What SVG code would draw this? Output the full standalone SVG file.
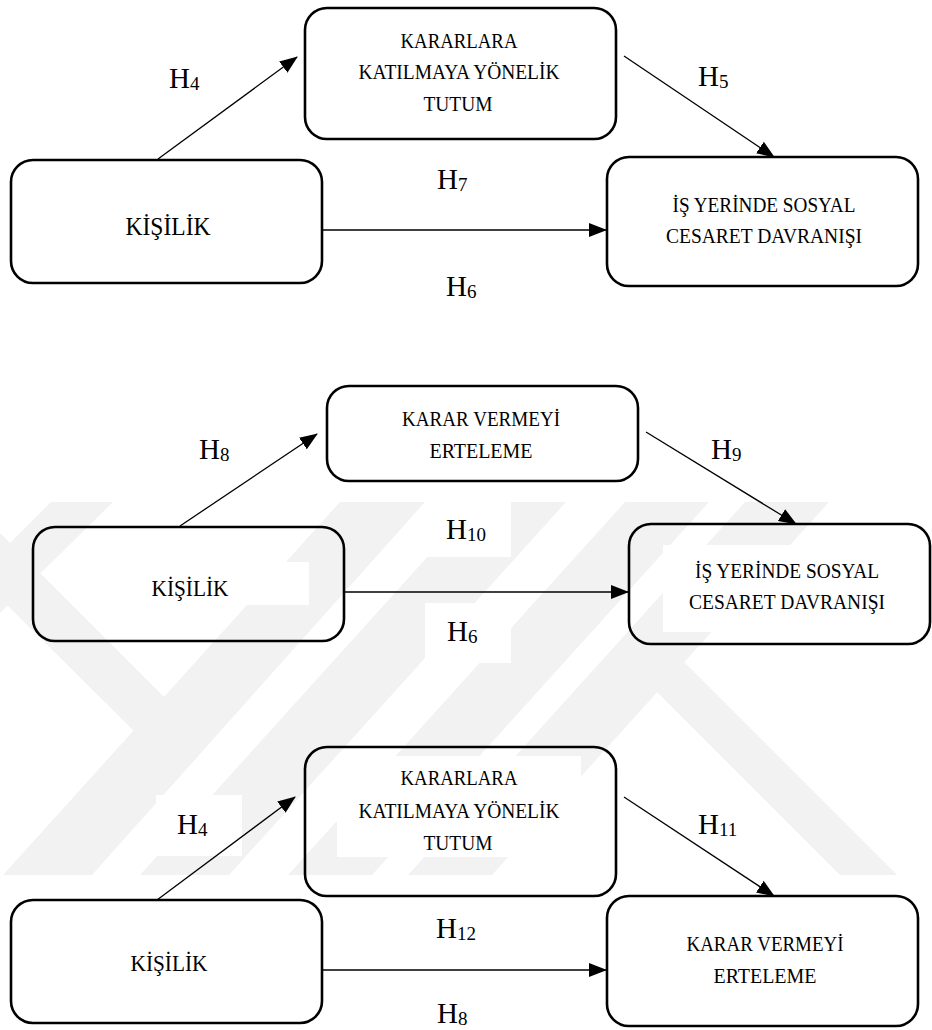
<svg xmlns="http://www.w3.org/2000/svg" width="932" height="1030" viewBox="0 0 932 1030">
<style>
.box{fill:none;stroke:#000;stroke-width:2.6}
.wm{fill:#f2f2f2;stroke:none}
.mask{fill:#fff;stroke:none}
.con{stroke:#000;stroke-width:1.3;fill:none;marker-end:url(#ah)}
.t{font-family:"Liberation Serif","DejaVu Serif",serif;fill:#000;text-anchor:middle}
.bt{font-size:21px}
.kt{font-size:25px}
.h{font-family:"Liberation Serif","DejaVu Serif",serif;fill:#000;font-size:29px}
.s{font-size:19px}
</style>
<defs>
<marker id="ah" markerUnits="userSpaceOnUse" markerWidth="18" markerHeight="14" refX="17" refY="7" orient="auto">
<path d="M0,0 L18,7 L0,14 z" fill="#000"/>
</marker>
</defs>
<rect width="932" height="1030" fill="#fff"/>
<g id="watermark">
<polygon class="wm" points="51,502 113,502 0,613 0,553"/>
<polygon class="wm" points="0,533 168,701 136,733 0,598"/>
<polygon class="wm" points="340,502 425,502 92,875 3,875"/>
<polygon class="wm" points="477,502 566,502 229,875 140,875"/>
<polygon class="wm" points="625,502 709,502 372,875 288,875"/>
<polygon class="wm" points="745,502 829,502 492,875 408,875"/>
<polygon class="wm" points="613,648 684,662 897,875 840,875"/>
<rect class="mask" x="425" y="502" width="86" height="55"/>
<rect class="mask" x="425" y="603" width="86" height="60"/>
<rect class="mask" x="110" y="562" width="199" height="43"/>
<rect class="mask" x="663" y="545" width="240" height="87"/>
<rect class="mask" x="156" y="795" width="86" height="61"/>
<rect class="mask" x="677" y="801" width="86" height="55"/>
<rect class="mask" x="337" y="756" width="244" height="101"/>
</g>
<g id="connectors">
<line class="con" x1="158" y1="159" x2="297" y2="57"/>
<line class="con" x1="624" y1="56" x2="774" y2="157"/>
<line class="con" x1="323" y1="230" x2="606" y2="230"/>
<line class="con" x1="180" y1="526" x2="317" y2="434"/>
<line class="con" x1="646" y1="432" x2="796" y2="524"/>
<line class="con" x1="345" y1="592" x2="628" y2="592"/>
<line class="con" x1="157" y1="900" x2="295" y2="797"/>
<line class="con" x1="624" y1="797" x2="774" y2="896"/>
<line class="con" x1="323" y1="970" x2="606" y2="970"/>
</g>
<g id="n1-tutum">
<rect class="box" x="305" y="8" width="311" height="131" rx="22"/>
<text class="t bt" x="459" y="48" textLength="117" lengthAdjust="spacingAndGlyphs">KARARLARA</text>
<text class="t bt" x="459" y="79" textLength="201" lengthAdjust="spacingAndGlyphs">KATILMAYA YÖNELİK</text>
<text class="t bt" x="458" y="111" textLength="69" lengthAdjust="spacingAndGlyphs">TUTUM</text>
</g>
<g id="n1-kisilik">
<rect class="box" x="11" y="160" width="311" height="123" rx="22"/>
<text class="t kt" x="168" y="235" textLength="85" lengthAdjust="spacingAndGlyphs">KİŞİLİK</text>
</g>
<g id="n1-cesaret">
<rect class="box" x="607" y="157" width="311" height="129" rx="22"/>
<text class="t bt" x="764" y="212" textLength="183" lengthAdjust="spacingAndGlyphs">İŞ YERİNDE SOSYAL</text>
<text class="t bt" x="764" y="243" textLength="196" lengthAdjust="spacingAndGlyphs">CESARET DAVRANIŞI</text>
</g>
<g id="n2-erteleme">
<rect class="box" x="327" y="386" width="311" height="95" rx="22"/>
<text class="t bt" x="481" y="426" textLength="158" lengthAdjust="spacingAndGlyphs">KARAR VERMEYİ</text>
<text class="t bt" x="481" y="458" textLength="103" lengthAdjust="spacingAndGlyphs">ERTELEME</text>
</g>
<g id="n2-kisilik">
<rect class="box" x="33" y="527" width="311" height="114" rx="22"/>
<text class="t kt" x="190" y="596" textLength="77" lengthAdjust="spacingAndGlyphs" style="font-size:23px">KİŞİLİK</text>
</g>
<g id="n2-cesaret">
<rect class="box" x="629" y="524" width="301" height="120" rx="22"/>
<text class="t bt" x="787" y="578" textLength="184" lengthAdjust="spacingAndGlyphs">İŞ YERİNDE SOSYAL</text>
<text class="t bt" x="787" y="609" textLength="196" lengthAdjust="spacingAndGlyphs">CESARET DAVRANIŞI</text>
</g>
<g id="n3-tutum">
<rect class="box" x="305" y="747" width="311" height="149" rx="22"/>
<text class="t bt" x="459" y="785" textLength="117" lengthAdjust="spacingAndGlyphs">KARARLARA</text>
<text class="t bt" x="459" y="818" textLength="201" lengthAdjust="spacingAndGlyphs">KATILMAYA YÖNELİK</text>
<text class="t bt" x="458" y="850" textLength="69" lengthAdjust="spacingAndGlyphs">TUTUM</text>
</g>
<g id="n3-kisilik">
<rect class="box" x="11" y="900" width="311" height="123" rx="22"/>
<text class="t kt" x="169" y="971" textLength="77" lengthAdjust="spacingAndGlyphs" style="font-size:23px">KİŞİLİK</text>
</g>
<g id="n3-erteleme">
<rect class="box" x="607" y="896" width="311" height="130" rx="22"/>
<text class="t bt" x="765" y="951" textLength="157" lengthAdjust="spacingAndGlyphs">KARAR VERMEYİ</text>
<text class="t bt" x="765" y="983" textLength="103" lengthAdjust="spacingAndGlyphs">ERTELEME</text>
</g>
<g id="labels">
<text class="h" x="169" y="88">H<tspan class="s" dy="2">4</tspan></text>
<text class="h" x="698" y="86">H<tspan class="s" dy="2">5</tspan></text>
<text class="h" x="437" y="189">H<tspan class="s" dy="2">7</tspan></text>
<text class="h" x="446" y="296">H<tspan class="s" dy="2">6</tspan></text>
<text class="h" x="199" y="459">H<tspan class="s" dy="2">8</tspan></text>
<text class="h" x="711" y="459">H<tspan class="s" dy="2">9</tspan></text>
<text class="h" x="446" y="539">H<tspan class="s" dy="2">10</tspan></text>
<text class="h" x="447" y="641">H<tspan class="s" dy="2">6</tspan></text>
<text class="h" x="177" y="834">H<tspan class="s" dy="2">4</tspan></text>
<text class="h" x="698" y="834">H<tspan class="s" dy="2">11</tspan></text>
<text class="h" x="436" y="938">H<tspan class="s" dy="2">12</tspan></text>
<text class="h" x="437" y="1023">H<tspan class="s" dy="2">8</tspan></text>
</g>
</svg>
